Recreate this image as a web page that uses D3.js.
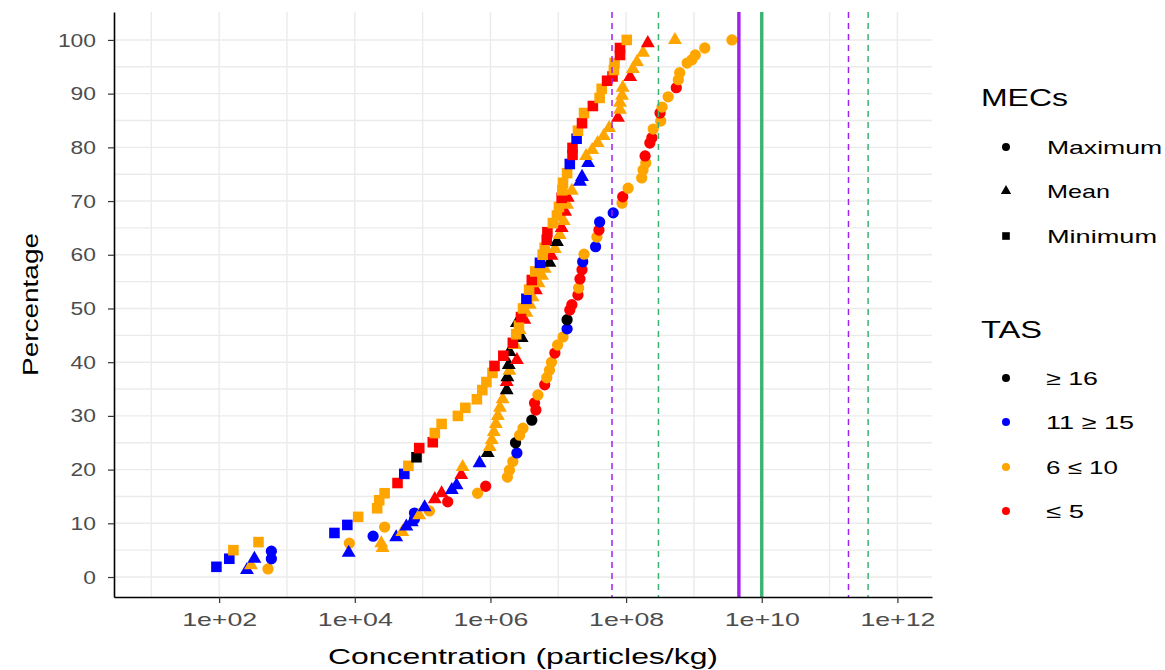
<!DOCTYPE html>
<html>
<head>
<meta charset="utf-8">
<script src="https://cdn.jsdelivr.net/npm/d3@7"></script>
<style>
  body { margin: 0; background: #fff; }
  svg { display: block; font-family: "Liberation Sans", Arial, sans-serif; }
</style>
</head>
<body>
<svg id="chart" width="1165" height="670"></svg>
<script>
// ---- Groups ----
const tasLabels = ["≥ 16", "11 ≥ 15", "6 ≤ 10", "≤ 5"];
const tasColors = ["#000000", "#0000FF", "#FFA500", "#FF0000"];
const mecLabels = ["Maximum", "Mean", "Minimum"];

// ---- Maximum MECs: log10 concentration, cumulative %, TAS group ----
const maxLogConc = [2.72,2.77,2.77,3.92,4.27,4.44,4.88,4.88,5.10,5.37,
  5.81,5.93,6.25,6.28,6.33,6.39,6.37,6.43,6.48,6.61,
  6.67,6.65,6.70,6.80,6.83,6.87,6.90,6.95,6.99,7.07,
  7.13,7.13,7.17,7.20,7.29,7.30,7.32,7.35,7.36,7.38,
  7.55,7.57,7.60,7.61,7.81,7.94,7.95,8.03,8.23,8.25,
  8.29,8.28,8.35,8.38,8.40,8.51,8.50,8.53,8.62,8.74,
  8.77,8.79,8.90,8.97,9.02,9.16,9.56];
const maxPercent = [1.5,3.4,4.8,6.3,7.6,9.3,10.8,11.9,12.3,14.0,
  15.6,16.9,18.6,19.9,21.5,23.1,25.0,26.4,27.7,29.2,
  31.1,32.4,33.9,35.8,37.1,38.5,40.0,41.7,43.2,44.7,
  46.2,47.9,49.7,50.7,52.5,53.8,55.5,57.2,58.7,60.1,
  61.5,63.3,64.6,66.1,67.8,69.6,70.8,72.4,74.3,75.8,
  77.1,78.4,80.8,81.8,83.4,84.9,86.4,87.5,89.4,91.1,
  92.6,93.9,95.7,96.3,97.2,98.5,100];
const maxTas = [2,1,1,2,1,2,1,1,2,3,
  2,3,2,2,2,1,0,2,2,0,
  3,3,2,3,2,2,2,3,2,2,
  1,0,3,3,3,2,3,3,1,2,
  1,2,3,1,1,2,3,2,2,2,
  2,3,3,3,2,2,3,2,2,3,
  2,2,2,2,2,2,2];

// ---- Mean MECs ----
const meanLogConc = [2.41,2.47,2.52,3.91,4.41,4.39,4.61,4.70,4.76,4.84,
  4.95,5.03,5.18,5.28,5.43,5.50,5.57,5.59,5.84,5.96,
  5.99,6.02,6.05,6.08,6.11,6.14,6.18,6.24,6.24,6.25,
  6.28,6.27,6.39,6.28,6.36,6.46,6.43,6.39,6.50,6.53,
  6.58,6.62,6.67,6.71,6.76,6.80,6.87,6.90,6.95,6.98,
  7.02,7.05,7.08,7.10,7.13,7.14,7.20,7.32,7.35,7.44,
  7.41,7.50,7.58,7.67,7.75,7.88,7.91,7.91,7.94,7.95,
  8.06,8.10,8.16,8.25,8.32,8.72];
const meanPercent = [1.3,2.2,3.4,4.5,5.4,6.3,7.4,8.4,9.4,10.2,
  11.5,13.0,14.5,15.6,16.2,17.1,19.0,20.5,21.2,23.1,
  24.2,25.5,27.0,28.5,30.0,31.5,33.1,34.8,36.3,37.2,
  38.4,39.5,40.4,41.9,43.2,44.5,46.0,47.3,47.9,49.2,
  50.7,52.1,53.4,54.7,56.1,57.4,58.5,59.8,61.1,62.4,
  63.7,65.0,66.3,68.0,69.3,70.6,71.9,73.6,74.5,77.1,
  78.4,79.5,80.8,82.1,83.6,85.5,87.0,88.3,89.6,91.1,
  93.1,94.6,95.9,97.6,99.4,100];
const meanTas = [1,2,1,1,2,2,1,2,1,1,
  2,1,3,3,1,1,3,2,1,0,
  2,2,2,2,2,2,2,0,3,0,
  2,0,3,0,2,0,2,0,3,2,
  2,2,3,2,2,2,0,3,2,0,
  2,3,2,3,2,3,2,1,1,1,
  2,2,2,2,2,3,2,2,2,2,
  3,2,2,2,3,2];

// ---- Minimum MECs ----
const minLogConc = [1.96,2.15,2.21,2.58,3.70,3.89,4.05,4.33,4.36,4.44,
  4.63,4.73,4.79,4.91,4.95,5.15,5.18,5.28,5.52,5.63,
  5.80,5.88,5.94,6.03,6.06,6.19,6.33,6.38,6.42,6.45,
  6.48,6.53,6.57,6.61,6.66,6.73,6.77,6.80,6.83,6.84,
  6.92,6.98,7.01,7.05,7.06,7.07,7.13,7.17,7.21,7.21,
  7.27,7.29,7.35,7.38,7.51,7.61,7.64,7.72,7.80,7.82,
  7.83,7.91,7.91,8.01];
const minPercent = [1.9,3.4,5.0,6.5,8.2,9.7,11.2,12.8,14.3,15.6,
  17.5,19.2,20.7,22.3,24.0,25.1,26.8,28.5,30.0,31.5,
  33.1,34.8,36.3,38.0,39.3,41.2,43.6,45.2,46.8,48.4,
  50.0,51.8,53.5,55.3,56.9,58.5,60.0,61.3,62.8,64.2,
  65.9,67.3,68.9,70.6,72.0,73.4,75.2,76.9,78.6,79.9,
  81.6,83.1,84.5,86.4,87.7,89.2,90.9,92.4,93.2,94.4,
  95.7,97.2,98.5,100];
const minTas = [1,1,2,2,1,1,2,2,2,2,
  3,1,2,0,3,3,2,2,2,2,
  2,2,2,2,3,3,3,2,2,3,
  2,1,2,3,2,1,2,2,3,3,
  2,2,2,3,2,2,2,1,3,3,
  1,2,3,2,3,2,2,3,3,2,
  2,3,3,2];

// ---- Threshold concentrations (particles/kg) ----
const thresholdConc = [6.2e7, 3.0e8, 4.6e9, 1e10, 1.9e11, 3.7e11];

// ---- Axis ticks ----
const xTickValues = [1e2, 1e4, 1e6, 1e8, 1e10, 1e12];
const xTickLabels = ["1e+02", "1e+04", "1e+06", "1e+08", "1e+10", "1e+12"];
const xMinorValues = [1e1, 1e3, 1e5, 1e7, 1e9, 1e11];
const yTickValues = [0, 10, 20, 30, 40, 50, 60, 70, 80, 90, 100];
const yMinorValues = [5, 15, 25, 35, 45, 55, 65, 75, 85, 95];

// ---- Layout ----
const panel = { left: 114, right: 932, top: 12, bottom: 597 };
const svg = d3.select("#chart");

const x = d3.scaleLog()
  .domain([Math.pow(10, 0.45), Math.pow(10, 12.51)])
  .range([panel.left, panel.right]);
const y = d3.scaleLinear()
  .domain([-3.72, 105.2])
  .range([panel.bottom, panel.top]);

// Grid
const grid = svg.append("g");
grid.selectAll(".gx").data(xMinorValues.concat(xTickValues)).join("line")
  .attr("x1", d => x(d)).attr("x2", d => x(d))
  .attr("y1", panel.top).attr("y2", panel.bottom)
  .attr("stroke", "#ebebeb").attr("stroke-width", 1.4);
grid.selectAll(".gy").data(yMinorValues.concat(yTickValues)).join("line")
  .attr("y1", d => y(d)).attr("y2", d => y(d))
  .attr("x1", panel.left).attr("x2", panel.right)
  .attr("stroke", "#ebebeb").attr("stroke-width", 1.4);

// Points
const shapeGen = {
  Maximum: d3.symbol().type(d3.symbolCircle).size(100),
  Mean: d3.symbol().type(d3.symbolTriangle).size(84),
  Minimum: d3.symbol().type(d3.symbolSquare).size(112)
};
function rows(logs, pcts, tas, mec) {
  return logs.map((v, i) => ({ conc: Math.pow(10, v), pct: pcts[i], tas: tas[i], mec }));
}
const points = [].concat(
  rows(maxLogConc, maxPercent, maxTas, "Maximum"),
  rows(meanLogConc, meanPercent, meanTas, "Mean"),
  rows(minLogConc, minPercent, minTas, "Minimum")
);
svg.append("g").selectAll("path").data(points).join("path")
  .attr("d", d => shapeGen[d.mec]())
  .attr("transform", d => `translate(${x(d.conc)},${y(d.pct)})`)
  .attr("fill", d => tasColors[d.tas]);

// Threshold lines: dashed pairs and the solid central pair
const lineStyle = [
  { color: "#A020F0", width: 1.5, dash: "6,5" },
  { color: "#3CB371", width: 1.5, dash: "6,5" },
  { color: "#A020F0", width: 3.4, dash: null },
  { color: "#3CB371", width: 3.4, dash: null },
  { color: "#A020F0", width: 1.5, dash: "6,5" },
  { color: "#3CB371", width: 1.5, dash: "6,5" }
];
svg.append("g").selectAll("line").data(thresholdConc).join("line")
  .attr("x1", d => x(d)).attr("x2", d => x(d))
  .attr("y1", panel.top).attr("y2", panel.bottom)
  .attr("stroke", (d, i) => lineStyle[i].color)
  .attr("stroke-width", (d, i) => lineStyle[i].width)
  .attr("stroke-dasharray", (d, i) => lineStyle[i].dash);

// Axes
const xAxis = svg.append("g")
  .attr("transform", `translate(0,${panel.bottom})`)
  .call(d3.axisBottom(x).tickValues(xTickValues)
    .tickFormat((d, i) => xTickLabels[i]).tickSize(6).tickPadding(10).tickSizeOuter(0));
const yAxis = svg.append("g")
  .attr("transform", `translate(${panel.left},0)`)
  .call(d3.axisLeft(y).tickValues(yTickValues).tickSize(6).tickPadding(12).tickSizeOuter(0));

[xAxis, yAxis].forEach(a => {
  a.select(".domain").attr("stroke", "#000").attr("stroke-width", 1.6);
  a.selectAll(".tick line").attr("stroke", "#333").attr("stroke-width", 1.2);
  a.selectAll(".tick text")
    .attr("fill", "#4d4d4d")
    .style("font-size", "19px")
    .style("font-family", "'Liberation Sans', Arial, sans-serif");
});
xAxis.selectAll(".tick text").attr("textLength", 75).attr("lengthAdjust", "spacingAndGlyphs");
yAxis.selectAll(".tick text")
  .attr("textLength", d => String(d).length * 12.7)
  .attr("lengthAdjust", "spacingAndGlyphs");

// Axis titles
svg.append("text")
  .attr("x", (panel.left + panel.right) / 2).attr("y", 664)
  .attr("text-anchor", "middle")
  .attr("font-size", 22).attr("fill", "#000")
  .attr("textLength", 390).attr("lengthAdjust", "spacingAndGlyphs")
  .text("Concentration (particles/kg)");
svg.append("text")
  .attr("transform", `translate(38,${(panel.top + panel.bottom) / 2}) rotate(-90)`)
  .attr("text-anchor", "middle")
  .attr("font-size", 22).attr("fill", "#000")
  .attr("textLength", 143).attr("lengthAdjust", "spacingAndGlyphs")
  .text("Percentage");

// Legends
const legend = svg.append("g");
const legendText = (tx, ty, str, size, len) => legend.append("text")
  .attr("x", tx).attr("y", ty).attr("font-size", size).attr("fill", "#000")
  .attr("textLength", len).attr("lengthAdjust", "spacingAndGlyphs").text(str);

legendText(981, 106, "MECs", 24, 87);
const mecKeyY = [147, 191, 236];
const mecLen = [115, 63, 110];
const keyShape = {
  Maximum: d3.symbol().type(d3.symbolCircle).size(50),
  Mean: d3.symbol().type(d3.symbolTriangle).size(46),
  Minimum: d3.symbol().type(d3.symbolSquare).size(58)
};
mecLabels.forEach((m, i) => {
  legend.append("path").attr("d", keyShape[m]())
    .attr("transform", `translate(1006,${mecKeyY[i]})`).attr("fill", "#000");
  legendText(1047, mecKeyY[i] + 7, m, 19, mecLen[i]);
});

legendText(981, 338, "TAS", 24, 61);
const tasKeyY = [378, 422, 467, 511];
const tasLen = [52, 88, 72, 38];
tasLabels.forEach((t, i) => {
  legend.append("path").attr("d", keyShape.Maximum())
    .attr("transform", `translate(1006,${tasKeyY[i]})`).attr("fill", tasColors[i]);
  legendText(1046, tasKeyY[i] + 7, t, 19, tasLen[i]);
});
</script>
</body>
</html>
